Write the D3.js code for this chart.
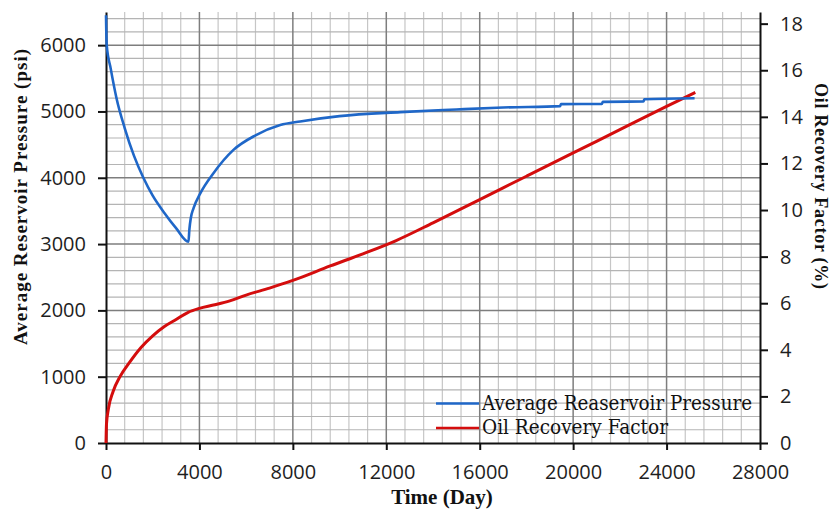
<!DOCTYPE html>
<html>
<head>
<meta charset="utf-8">
<script src="https://cdn.jsdelivr.net/npm/d3@7"></script>
<style>
  html, body { margin: 0; padding: 0; background: #fff; }
  svg { display: block; }
</style>
</head>
<body>
<svg id="chart" width="832" height="518"></svg>
<script>
// Time axis ticks (days)
const timeTicks = [0, 4000, 8000, 12000, 16000, 20000, 24000, 28000];
// Left axis ticks (psi) and right axis ticks (%)
const pressureTicks = [0, 1000, 2000, 3000, 4000, 5000, 6000];
const recoveryTicks = [0, 2, 4, 6, 8, 10, 12, 14, 16, 18];

// Average reservoir pressure (psi) vs time (day)
const pressureDays = [0, 30, 200, 450, 800, 1200, 1600, 2000, 2500, 3000, 3530,
  3570, 3630, 3745, 4030, 4600, 5457, 6400, 7460, 8315, 10000, 12600, 15000,
  17000, 19440, 19480, 21230, 21270, 23010, 23050, 25200];
const pressureValues = [6450, 6000, 5650, 5200, 4750, 4330, 4000, 3730, 3470, 3240, 3036,
  3220, 3390, 3540, 3760, 4068, 4420, 4640, 4796, 4850, 4930, 4990, 5030,
  5060, 5080, 5110, 5115, 5145, 5150, 5185, 5199];

// Oil recovery factor (%) vs time (day)
const recoveryDays = [0, 20, 100, 300, 600, 1000, 1500, 2000, 2500, 3000, 3500,
  4000, 4600, 5300, 6000, 7000, 8000, 9600, 11000, 12400, 14000, 16000, 18000,
  20000, 22000, 24000, 25230];
const recoveryValues = [0, 0.8, 1.45, 2.2, 2.85, 3.45, 4.1, 4.6, 5.0, 5.3, 5.6,
  5.78, 5.92, 6.1, 6.35, 6.65, 6.98, 7.6, 8.12, 8.68, 9.45, 10.45, 11.45,
  12.45, 13.45, 14.45, 15.05];

const seriesNames = ["Average Reaservoir Pressure", "Oil Recovery Factor"];
const seriesColors = ["#1f67c8", "#d40d0d"];

const svg = d3.select("#chart");
const plot = { left: 106, right: 760, top: 12, bottom: 443 };

const x = d3.scaleLinear().domain([0, 28000]).range([plot.left, plot.right]);
const yP = d3.scaleLinear().domain([0, 6500]).range([plot.bottom, plot.top]);
const yR = d3.scaleLinear().domain([0, 18.5]).range([plot.bottom, plot.top]);

// Grid: minor lines first, majors on top
const minorX = d3.range(800, 28000, 800).filter(v => v % 4000 !== 0);
const majorX = d3.range(4000, 28000, 4000);
const minorY = d3.range(200, 6500, 200).filter(v => v % 1000 !== 0);
const majorY = d3.range(1000, 6500, 1000);

const grid = svg.append("g");
grid.selectAll(".vminor").data(minorX).join("line")
  .attr("x1", d => x(d)).attr("x2", d => x(d))
  .attr("y1", plot.top).attr("y2", plot.bottom)
  .attr("stroke", "#c6c6c6").attr("stroke-width", 1.2);
grid.selectAll(".hminor").data(minorY).join("line")
  .attr("x1", plot.left).attr("x2", plot.right)
  .attr("y1", d => yP(d)).attr("y2", d => yP(d))
  .attr("stroke", "#b4b4b4").attr("stroke-width", 1.2);
grid.selectAll(".vmajor").data(majorX).join("line")
  .attr("x1", d => x(d)).attr("x2", d => x(d))
  .attr("y1", plot.top).attr("y2", plot.bottom)
  .attr("stroke", "#7e7e7e").attr("stroke-width", 1.5);
grid.selectAll(".hmajor").data(majorY).join("line")
  .attr("x1", plot.left).attr("x2", plot.right)
  .attr("y1", d => yP(d)).attr("y2", d => yP(d))
  .attr("stroke", "#7e7e7e").attr("stroke-width", 1.5);

// Axes
const tickFont = "'Open Sans', 'Liberation Sans', sans-serif";
function styleAxis(g) {
  g.selectAll(".domain").attr("stroke", "#111").attr("stroke-width", 2);
  g.selectAll(".tick line").attr("stroke", "#111").attr("stroke-width", 2);
  g.selectAll(".tick text").attr("fill", "#1e1e1e")
    .attr("font-family", tickFont).attr("font-size", 20);
}
const plain = d3.format("d");

svg.append("g")
  .attr("transform", `translate(0,${plot.bottom})`)
  .call(d3.axisBottom(x).tickValues(timeTicks).tickFormat(plain)
    .tickSize(7).tickSizeOuter(0).tickPadding(15))
  .call(styleAxis);

svg.append("g")
  .attr("transform", `translate(${plot.left},0)`)
  .call(d3.axisLeft(yP).tickValues(pressureTicks).tickFormat(plain)
    .tickSize(8).tickSizeOuter(0).tickPadding(12))
  .call(styleAxis);

svg.append("g")
  .attr("transform", `translate(${plot.right},0)`)
  .call(d3.axisRight(yR).tickValues(recoveryTicks).tickFormat(plain)
    .tickSize(8).tickSizeOuter(0).tickPadding(12))
  .call(styleAxis);

// Series lines
const pressureLine = d3.line()
  .x((d, i) => x(pressureDays[i])).y(d => yP(d))
  .curve(d3.curveMonotoneX);
const recoveryLine = d3.line()
  .x((d, i) => x(recoveryDays[i])).y(d => yR(d))
  .curve(d3.curveMonotoneX);

svg.append("path").datum(recoveryValues)
  .attr("d", recoveryLine)
  .attr("fill", "none").attr("stroke", seriesColors[1])
  .attr("stroke-width", 3).attr("stroke-linejoin", "round");

svg.append("path").datum(pressureValues)
  .attr("d", pressureLine)
  .attr("fill", "none").attr("stroke", seriesColors[0])
  .attr("stroke-width", 2.6).attr("stroke-linejoin", "round");

// Axis titles
const titleFont = "'Liberation Serif', 'Times New Roman', serif";
svg.append("text")
  .attr("x", (plot.left + plot.right) / 2 + 9).attr("y", 504)
  .attr("text-anchor", "middle")
  .attr("font-family", titleFont).attr("font-weight", "bold")
  .attr("font-size", 21).attr("fill", "#111")
  .text("Time (Day)");

svg.append("text")
  .attr("transform", "translate(27,197) rotate(-90)")
  .attr("text-anchor", "middle")
  .attr("font-family", titleFont).attr("font-weight", "bold")
  .attr("font-size", 19).attr("fill", "#111")
  .attr("textLength", 296).attr("lengthAdjust", "spacing")
  .text("Average Reservoir Pressure (psi)");

svg.append("text")
  .attr("transform", "translate(815,186) rotate(90)")
  .attr("text-anchor", "middle")
  .attr("font-family", titleFont).attr("font-weight", "bold")
  .attr("font-size", 18).attr("fill", "#111")
  .attr("textLength", 206).attr("lengthAdjust", "spacing")
  .text("Oil Recovery Factor (%)");

// Legend
const legendFont = "'DejaVu Serif', 'Liberation Serif', serif";
const legendRows = [{ y: 403.5, ty: 410, len: 270 }, { y: 428, ty: 434, len: 186 }];
const legend = svg.append("g");
legendRows.forEach((r, i) => {
  legend.append("line")
    .attr("x1", 436).attr("x2", 479).attr("y1", r.y).attr("y2", r.y)
    .attr("stroke", seriesColors[i]).attr("stroke-width", 2.6);
  legend.append("text")
    .attr("x", 482).attr("y", r.ty)
    .attr("font-family", legendFont).attr("font-size", 20).attr("fill", "#111")
    .attr("textLength", r.len).attr("lengthAdjust", "spacingAndGlyphs")
    .text(seriesNames[i]);
});
</script>
</body>
</html>
